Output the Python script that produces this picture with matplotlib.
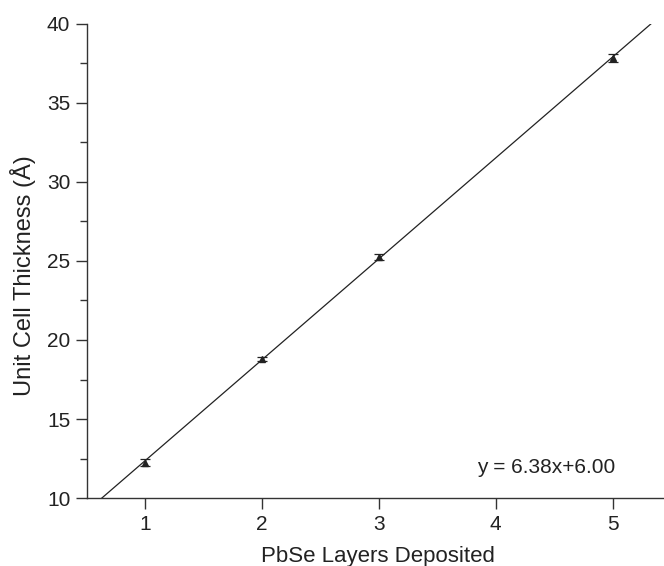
import numpy as np
import matplotlib.pyplot as plt
from matplotlib.ticker import MultipleLocator

plt.rcParams['font.family'] = ['Liberation Sans', 'DejaVu Sans']

layers = [1, 2, 3, 5]
thickness = [12.25, 18.8, 25.25, 37.85]
errors = [0.2, 0.1, 0.2, 0.25]
slope = 6.38
intercept = 6.00

fig = plt.figure(figsize=(6.64, 5.66), dpi=100)
ax = fig.add_axes([0.131, 0.12, 0.869, 0.838])

fit_x = np.array([0.0, 6.0])
ax.plot(fit_x, slope * fit_x + intercept, color='#222222', lw=0.9)
ax.errorbar(layers, thickness, yerr=errors, fmt='^', color='#222222',
            ms=4, capsize=3.5, elinewidth=0.9, capthick=0.9)

ax.set_xlim(0.5, 5.44)
ax.set_ylim(10, 40)
ax.xaxis.set_major_locator(MultipleLocator(1))
ax.yaxis.set_major_locator(MultipleLocator(5))
ax.yaxis.set_minor_locator(MultipleLocator(2.5))

for side in ['top', 'right']:
    ax.spines[side].set_visible(False)
for side in ['left', 'bottom']:
    ax.spines[side].set_color('#333333')
    ax.spines[side].set_linewidth(1.0)

ax.tick_params(which='major', length=8, width=1, color='#333333',
               labelsize=15, labelcolor='#222222', pad=4)
ax.tick_params(which='minor', length=5, width=1, color='#333333')

ax.set_xlabel('PbSe Layers Deposited', fontsize=16, color='#222222')
ax.set_ylabel('Unit Cell Thickness (Å)', fontsize=17, color='#222222')
ax.xaxis.set_label_coords(0.504, -0.101)
ax.yaxis.set_label_coords(-0.089, 0.47)

ax.text(3.84, 11.95, 'y = 6.38x+6.00', fontsize=15, color='#222222',
        va='center', ha='left')

fig.savefig('out.png', dpi=100)
